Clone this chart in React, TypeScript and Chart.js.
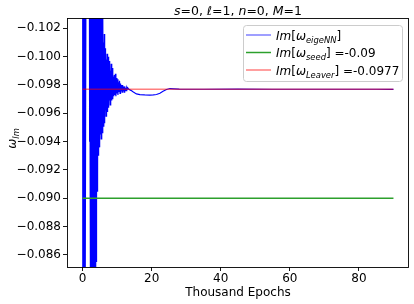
import React, { useEffect, useRef } from 'react';
import { Chart, registerables } from 'chart.js';

Chart.register(...registerables);

// Thousand epochs (x) and Im[omega_eigeNN] values (y)
const epochs = [
  0.0, 0.1, 0.2, 0.3, 0.4, 0.5, 0.6, 0.7, 1.2, 1.9,
  2.0, 2.1, 2.2, 2.3, 2.4, 2.5, 2.6, 2.7, 2.8, 2.9,
  3.0, 3.1, 3.2, 3.3, 3.4, 3.5, 3.6, 3.7, 3.8, 3.9,
  4.0, 4.1, 4.2, 4.3, 4.4, 4.5, 4.6, 4.7, 4.8, 4.9,
  5.0, 5.1, 5.2, 5.3, 5.4, 5.5, 5.6, 5.7, 5.8, 5.9,
  6.0, 6.1, 6.2, 6.3, 6.4, 6.5, 6.6, 6.7, 6.8, 6.9,
  7.0, 7.1, 7.2, 7.3, 7.4, 7.5, 7.6, 7.7, 7.8, 7.9,
  8.0, 8.1, 8.2, 8.3, 8.4, 8.5, 8.6, 8.7, 8.8, 8.9,
  9.05, 9.2, 9.35, 9.5, 9.65, 9.8, 9.95, 10.1, 10.25, 10.4,
  10.55, 10.7, 10.85, 11.0, 11.15, 11.3, 11.45, 11.6, 11.75, 11.9,
  12.05, 12.2, 12.35, 12.5, 12.65, 12.8, 12.95, 13.1,
  13.5, 14.0, 14.7, 15.6, 16.6, 18.0, 19.5, 20.5, 21.4, 22.4,
  23.3, 24.3, 25.3, 26.5, 28.0, 35.0, 45.0, 55.0, 65.0, 75.0,
  85.0, 90.0,
];
const imEigeNN = [
  -0.130, -0.070, -0.128, -0.072, -0.126, -0.074, -0.124, -0.071, -0.128, -0.122,
  -0.094, -0.121, -0.092, -0.119, -0.078, -0.120, -0.075, -0.118, -0.080, -0.121,
  -0.077, -0.117, -0.081, -0.119, -0.079, -0.116, -0.083, -0.118, -0.082, -0.115,
  -0.0855, -0.114, -0.0905, -0.113, -0.0912, -0.111, -0.0930, -0.110, -0.0938, -0.108,
  -0.0936, -0.107, -0.0945, -0.106, -0.0942, -0.105, -0.0948, -0.104, -0.0946, -0.1030,
  -0.0951, -0.1010, -0.0958, -0.1016, -0.0953, -0.1003, -0.0962, -0.1006, -0.0958, -0.0998,
  -0.0966, -0.1002, -0.0961, -0.0995, -0.0968, -0.1000, -0.0964, -0.0993, -0.0969, -0.0997,
  -0.0966, -0.0990, -0.0971, -0.0995, -0.0969, -0.0988, -0.0972, -0.0992, -0.0970, -0.0986,
  -0.0972, -0.0987, -0.0973, -0.0988, -0.0972, -0.0985, -0.0974, -0.0984, -0.0973, -0.0982,
  -0.0975, -0.0983, -0.0974, -0.0981, -0.0976, -0.0980, -0.0975, -0.0980, -0.0976, -0.0979,
  -0.0975, -0.0979, -0.0976, -0.0978, -0.0976, -0.0978, -0.0977, -0.0978,
  -0.09768, -0.09762, -0.0975, -0.09737, -0.09732, -0.0973, -0.09729, -0.0973, -0.09733, -0.09742,
  -0.09756, -0.09768, -0.09775, -0.09773, -0.09771, -0.0977, -0.09771, -0.0977, -0.0977, -0.0977,
  -0.0977, -0.09769,
];
const refSpan = [0, 90];
const seedValue = -0.09;
const leaverValue = -0.0977;
const xTicks = [0, 20, 40, 60, 80];
const yTicks = [-0.102, -0.1, -0.098, -0.096, -0.094, -0.092, -0.09, -0.088, -0.086];
const titleText = 's=0, ℓ=1, n=0, M=1';
const xTitle = 'Thousand Epochs';
const legendLabels = ['eigeNN', 'seed', 'Leaver'];
const legendSuffix = ['', ' =-0.09', ' =-0.0977'];

const FAMILY = '"DejaVu Sans", sans-serif';
const BLUE = 'rgb(0,0,255)';
const BLUE_LEG = 'rgba(0,0,255,0.5)';
const GREEN = 'rgb(44,160,44)';
const RED = 'rgba(255,0,0,0.5)';

type Seg = { t: string; it?: boolean; sub?: boolean };

function segFont(s: Seg, size: number) {
  const fs = s.sub ? size * 0.7 : size;
  return `${s.it ? 'italic ' : ''}${fs}px ${FAMILY}`;
}
function measureSegs(ctx: CanvasRenderingContext2D, segs: Seg[], size: number) {
  let w = 0;
  for (const s of segs) {
    ctx.font = segFont(s, size);
    w += ctx.measureText(s.t).width;
  }
  return w;
}
function drawSegs(ctx: CanvasRenderingContext2D, segs: Seg[], x: number, y: number, size: number) {
  let cx = x;
  ctx.textBaseline = 'alphabetic';
  ctx.textAlign = 'left';
  for (const s of segs) {
    ctx.font = segFont(s, size);
    ctx.fillText(s.t, cx, s.sub ? y + size * 0.25 : y);
    cx += ctx.measureText(s.t).width;
  }
}

function titleSegs(): Seg[] {
  const parts = titleText.split(/(s|ℓ|n|M)(?==)/);
  return parts.filter((p) => p.length).map((p) => ({ t: p, it: /^(s|ℓ|n|M)$/.test(p) }));
}

function legendSegs(i: number): Seg[] {
  const segs: Seg[] = [
    { t: 'Im', it: true },
    { t: '[' },
    { t: 'ω', it: true },
    { t: legendLabels[i], it: true, sub: true },
    { t: ']' },
  ];
  if (legendSuffix[i]) segs.push({ t: legendSuffix[i] });
  return segs;
}

const decor = {
  id: 'decor',
  afterDraw(chart: any) {
    const ctx: CanvasRenderingContext2D = chart.ctx;
    const a = chart.chartArea;
    ctx.save();
    // frame
    ctx.strokeStyle = '#000';
    ctx.lineWidth = 0.9;
    const l = Math.floor(a.left) + 0.5;
    const t = Math.floor(a.top) + 0.5;
    const r = Math.floor(a.right) - 0.5;
    const b = Math.floor(a.bottom) + 0.5;
    ctx.strokeRect(l, t, r - l, b - t);

    // title
    ctx.fillStyle = '#000';
    const ts = titleSegs();
    const tw = measureSegs(ctx, ts, 12.5);
    drawSegs(ctx, ts, (a.left + a.right) / 2 - tw / 2, 15, 12.5);

    // y label
    const ys: Seg[] = [{ t: 'ω', it: true }, { t: 'Im', it: true, sub: true }];
    const yw = measureSegs(ctx, ys, 12);
    ctx.save();
    ctx.translate(16, (a.top + a.bottom) / 2 - 4);
    ctx.rotate(-Math.PI / 2);
    drawSegs(ctx, ys, -yw / 2, 0, 12);
    ctx.restore();

    // legend
    const bx = 243.5, by = 25.5, bw = 159, bh = 56;
    ctx.beginPath();
    (ctx as any).roundRect(bx, by, bw, bh, 3);
    ctx.fillStyle = 'rgba(255,255,255,0.8)';
    ctx.fill();
    ctx.strokeStyle = '#cccccc';
    ctx.lineWidth = 1;
    ctx.stroke();
    const colors = [BLUE_LEG, GREEN, RED];
    const rows = [35, 52.5, 70];
    for (let i = 0; i < 3; i++) {
      ctx.strokeStyle = colors[i];
      ctx.lineWidth = 1.5;
      ctx.beginPath();
      ctx.moveTo(246, rows[i]);
      ctx.lineTo(271, rows[i]);
      ctx.stroke();
      ctx.fillStyle = '#000';
      drawSegs(ctx, legendSegs(i), 276, rows[i] + 4.5, 12);
    }
    ctx.restore();
  },
};

export default function App() {
  const ref = useRef<HTMLCanvasElement | null>(null);
  useEffect(() => {
    document.body.style.margin = '0';
    const canvas = ref.current;
    if (!canvas) return;
    const fmtY = (v: number) => v.toFixed(3).replace('-', '\u2212');
    const chart = new Chart(canvas, {
      type: 'line',
      data: {
        datasets: [
          {
            label: 'Im[ω_eigeNN]',
            data: epochs.map((x, i) => ({ x, y: imEigeNN[i] })),
            borderColor: BLUE,
            borderWidth: 1.2,
            pointRadius: 0,
            tension: 0,
            order: 3,
          },
          {
            label: 'Im[ω_seed] =-0.09',
            data: refSpan.map((x) => ({ x, y: seedValue })),
            borderColor: GREEN,
            borderWidth: 1.5,
            pointRadius: 0,
            order: 2,
          },
          {
            label: 'Im[ω_Leaver] =-0.0977',
            data: refSpan.map((x) => ({ x, y: leaverValue })),
            borderColor: RED,
            borderWidth: 1.5,
            pointRadius: 0,
            order: 1,
          },
        ],
      },
      options: {
        animation: false,
        responsive: false,
        events: [],
        layout: { padding: { left: 0, right: 5, top: 18, bottom: 0 } },
        plugins: {
          legend: { display: false },
          title: { display: false },
          tooltip: { enabled: false },
        },
        scales: {
          x: {
            type: 'linear',
            min: -4.5,
            max: 94.5,
            afterBuildTicks: (s: any) => {
              s.ticks = xTicks.map((v) => ({ value: v }));
            },
            afterFit: (s: any) => {
              s.height = 37;
            },
            grid: { drawOnChartArea: false, drawTicks: true, tickLength: 4, color: '#000', lineWidth: 0.9 },
            border: { display: false },
            ticks: {
              font: { family: FAMILY, size: 12 },
              color: '#000',
              padding: 1,
              maxRotation: 0,
              autoSkip: false,
              callback: (v: any) => String(v),
            },
            title: {
              display: true,
              text: xTitle,
              font: { family: FAMILY, size: 12 },
              color: '#000',
              padding: { top: 0, bottom: 4 },
            },
          },
          y: {
            type: 'linear',
            reverse: true,
            min: -0.10273,
            max: -0.08515,
            afterBuildTicks: (s: any) => {
              s.ticks = yTicks.map((v) => ({ value: v }));
            },
            afterFit: (s: any) => {
              s.width = 67;
            },
            grid: { drawOnChartArea: false, drawTicks: true, tickLength: 4, color: '#000', lineWidth: 0.9 },
            border: { display: false },
            ticks: {
              font: { family: FAMILY, size: 12 },
              color: '#000',
              padding: 2,
              autoSkip: false,
              callback: (v: any) => fmtY(Number(v)),
            },
          },
        },
      },
      plugins: [decor],
    });
    return () => chart.destroy();
  }, []);
  return (
    <div style={{ width: 414, height: 304 }}>
      <canvas ref={ref} width={414} height={304} style={{ display: 'block' }} />
    </div>
  );
}
